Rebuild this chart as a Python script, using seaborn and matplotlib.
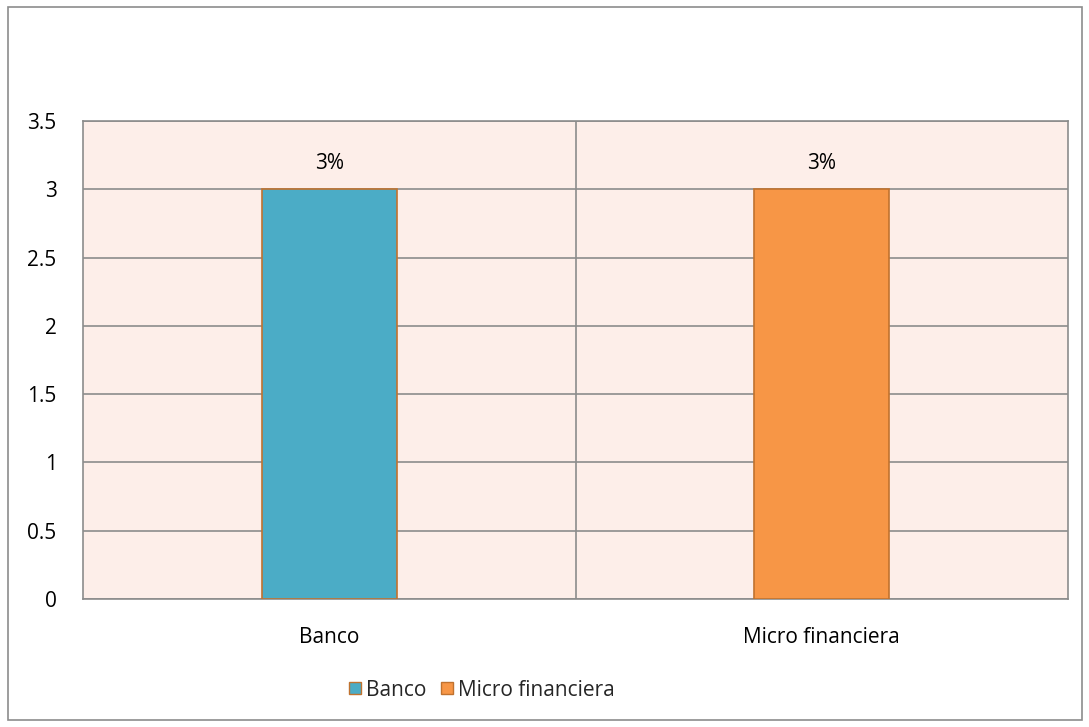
import matplotlib
matplotlib.use("Agg")
import matplotlib.pyplot as plt
from matplotlib.patches import Rectangle, Patch
import seaborn as sns
import pandas as pd

categories = ["Banco", "Micro financiera"]
values = [3, 3]
labels = ["3%", "3%"]
colors = ["#4BACC6", "#F79646"]
y_ticks = [0, 0.5, 1, 1.5, 2, 2.5, 3, 3.5]
y_tick_labels = ["0", "0.5", "1", "1.5", "2", "2.5", "3", "3.5"]

sns.set_theme(style="white")
plt.rcParams["font.family"] = ["Open Sans", "DejaVu Sans"]

df = pd.DataFrame({"categoria": categories, "valor": values})

fig = plt.figure(figsize=(10.89, 7.27), dpi=100)
ax = fig.add_axes([83 / 1089, 1 - 599 / 727, (1068 - 83) / 1089, (599 - 121) / 727])

sns.barplot(data=df, x="categoria", y="valor", hue="categoria",
            palette=colors, saturation=1, width=0.274, edgecolor="#C0722F",
            linewidth=1.2, legend=False, ax=ax, zorder=3)

ax.set_facecolor("#FDEEE9")
ax.set_ylim(0, 3.5)
ax.set_xlim(-0.5, 1.5)
ax.set_yticks(y_ticks)
ax.set_yticklabels(y_tick_labels)
ax.set_xlabel("")
ax.set_ylabel("")
ax.yaxis.grid(True, color="#8C8C8C", linewidth=1.2, zorder=1)
ax.set_axisbelow(True)
ax.axvline(0.5, color="#8C8C8C", linewidth=1.2, zorder=1)
for s in ax.spines.values():
    s.set_color("#8C8C8C")
    s.set_linewidth(1.2)
ax.tick_params(axis="both", length=0, labelsize=15, colors="#000000")
ax.tick_params(axis="y", pad=19)
ax.tick_params(axis="x", pad=20)

for i, (v, t) in enumerate(zip(values, labels)):
    ax.annotate(t, xy=(i, v), xytext=(0, 26), textcoords="offset pixels",
                ha="center", va="center", fontsize=15, color="#000000")

handles = [Patch(facecolor=c, edgecolor="#C0722F", linewidth=1.0) for c in colors]
fig.legend(handles, categories, loc="center", bbox_to_anchor=(482 / 1089, 1 - 690 / 727),
           ncol=2, frameon=False, fontsize=15, handlelength=0.55, handleheight=0.55,
           handletextpad=0.25, columnspacing=0.7)

fig.patches.append(Rectangle((8 / 1089, 7 / 727), 1074 / 1089, 713 / 727,
                             transform=fig.transFigure, fill=False,
                             edgecolor="#8C8C8C", linewidth=1.2))

fig.savefig("out.png", dpi=100)
